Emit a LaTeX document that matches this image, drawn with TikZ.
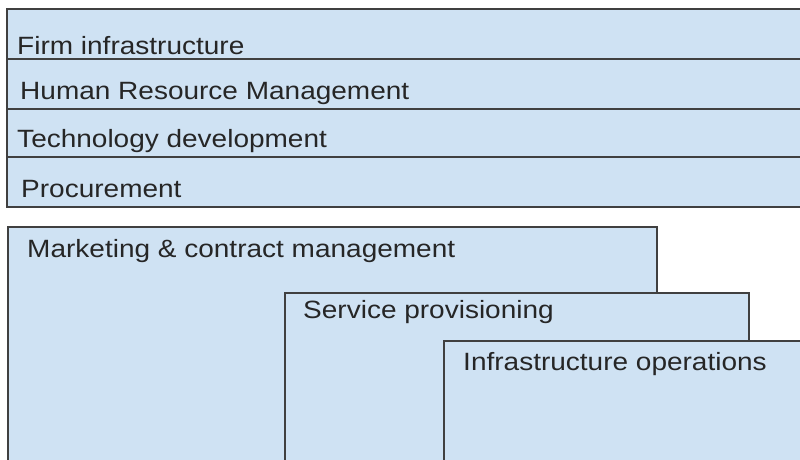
\documentclass[tikz,border=0pt]{standalone}
\usepackage{fontspec}
\setmainfont{Liberation Sans}
\definecolor{chainblue}{HTML}{CFE2F3}
\definecolor{chainedge}{HTML}{404040}

\begin{document}
\begin{tikzpicture}[x=1pt, y=-1pt,
	bar/.style={fill=chainblue, draw=chainedge, line width=2pt},
	box/.style={fill=chainblue, draw=chainedge, line width=1.5pt},
	lbl/.style={anchor=base west, inner sep=0pt, font=\fontsize{25}{29}\selectfont, text=black!85, xscale=1.12}]
\useasboundingbox (0,0) rectangle (800,460);
\clip (0,0) rectangle (800,460);

% support activities
\draw[bar] (7,9) rectangle (812,59);
\draw[bar] (7,59) rectangle (812,109);
\draw[bar] (7,109) rectangle (812,157);
\draw[bar] (7,157) rectangle (812,207);

\node[lbl] (firm) at (17,55) {Firm infrastructure};
\node[lbl] (hrm) at (20,99) {Human Resource Management};
\node[lbl] (tech) at (17,147) {Technology development};
\node[lbl] (proc) at (21,197) {Procurement};

% primary activities, stacked
\draw[box] (8,227) rectangle (657,475);
\draw[box] (285,293) rectangle (749,475);
\draw[box] (444,341) rectangle (812,475);

\node[lbl] (mkt) at (27,257) {Marketing \& contract management};
\node[lbl] (serv) at (303,318) {Service provisioning};
\node[lbl] (infra) at (463,370) {Infrastructure operations};

\end{tikzpicture}
\end{document}
